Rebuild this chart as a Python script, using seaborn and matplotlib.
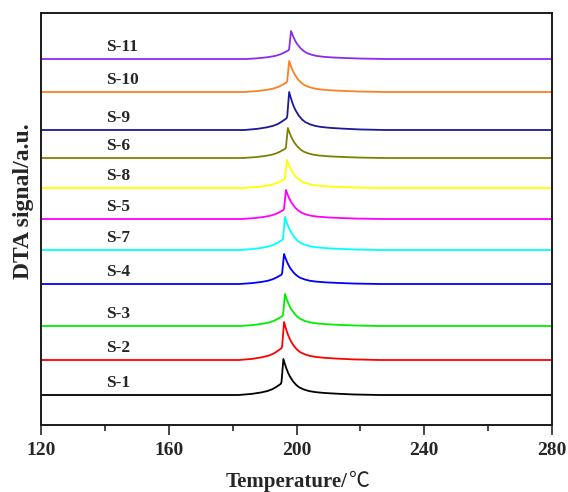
import numpy as np
import pandas as pd
import matplotlib
matplotlib.use("Agg")
import matplotlib.pyplot as plt
from matplotlib.ticker import MultipleLocator
import seaborn as sns

# Samples, stacked bottom to top
samples = ["S-1", "S-2", "S-3", "S-4", "S-7", "S-5", "S-8", "S-6", "S-9", "S-10", "S-11"]
colors = ["#000000", "#ff0000", "#00ee00", "#0000ff", "#00ffff", "#ff00ff",
          "#ffff00", "#808000", "#1a1a9a", "#ff8020", "#8a2cf0"]
# Vertical offset of each trace (a.u.)
offsets = [30, 65, 99, 141, 175, 206, 237, 267, 295, 333, 366]
# Melting peak temperature (°C) and peak height (a.u.)
peak_temp = [195.9, 196.1, 196.4, 196.1, 196.4, 196.7, 197.0, 197.3, 197.7, 197.7, 198.3]
peak_height = [36, 38, 32, 30, 33, 29, 28, 30, 38, 31, 28]

# Endotherm profile around the peak: offset from peak (°C) and fraction of peak height
profile_dt = [-14, -10, -7, -5, -3.5, -2.5, -1.8, -0.8, -0.6, 0.0, 0.5, 1.0, 1.5,
              2.0, 3.0, 4.0, 5.0, 6.5, 8.0, 10.0, 13.0, 17.0, 22.0, 30.0]
profile_frac = [0.0, 0.03, 0.07, 0.11, 0.16, 0.21, 0.25, 0.31, 0.36, 1.0, 0.85, 0.72, 0.61,
                0.52, 0.38, 0.28, 0.21, 0.15, 0.11, 0.08, 0.055, 0.035, 0.015, 0.0]

t_min, t_max = 120, 280

rows = []
for name, base, tp, h in zip(samples, offsets, peak_temp, peak_height):
    temps = [t_min] + [tp + d for d in profile_dt] + [t_max]
    sig = [base] + [base + h * f for f in profile_frac] + [base]
    for i, (t, s) in enumerate(zip(temps, sig)):
        rows.append({"sample": name, "order": i, "T": t, "signal": s})
df = pd.DataFrame(rows)

sns.set_style("white")
plt.rcParams["font.family"] = ["Liberation Serif", "DejaVu Serif"]
plt.rcParams["font.weight"] = "bold"

W, H = 568, 492
fig = plt.figure(figsize=(W / 100, H / 100), dpi=100)
ax = fig.add_axes([41 / W, 1 - 425 / H, 511 / W, 412 / H])

sns.lineplot(data=df, x="T", y="signal", hue="sample", hue_order=samples,
             palette=colors, units="sample", estimator=None, sort=False,
             linewidth=1.3, legend=False, ax=ax)

for name, base in zip(samples, offsets):
    ax.text(140.3, base + 12, name, ha="left", va="center",
            fontsize=12.5, fontweight="bold")

ax.set_xlim(t_min, t_max)
ax.set_ylim(0, 412)
ax.xaxis.set_major_locator(MultipleLocator(40))
ax.xaxis.set_minor_locator(MultipleLocator(20))
ax.set_yticks([])
ax.tick_params(axis="x", which="major", direction="out", length=7, width=1.2,
               labelsize=14, bottom=True, top=False, pad=5)
ax.tick_params(axis="x", which="minor", direction="out", length=4, width=1.2,
               bottom=True, top=False)
for lab in ax.get_xticklabels():
    lab.set_fontweight("bold")

for sp in ax.spines.values():
    sp.set_visible(True)
    sp.set_linewidth(1.4)
    sp.set_color("#1a1a1a")

ax.set_xlabel("")
ax.set_ylabel("DTA signal/a.u.", fontsize=17, fontweight="bold")
ax.yaxis.label.set_ha("center")
ax.yaxis.label.set_va("center")
ax.yaxis.set_label_coords(-0.034, (425 - 201) / 412)

# x-axis title: bold text followed by a light degree-Celsius sign, centred together
renderer = fig.canvas.get_renderer()
t1 = fig.text(0, 0, "Temperature/", fontsize=15, fontweight="bold",
              ha="left", va="baseline")
t2 = fig.text(0, 0, "℃", fontsize=15, fontweight="normal",
              family=["Noto Sans CJK SC", "DejaVu Sans"], ha="left", va="baseline")
w1 = t1.get_window_extent(renderer).width
w2 = t2.get_window_extent(renderer).width
x0 = 297.5 - (w1 + w2) / 2
base_y = 1 - 487 / H
t1.set_position((x0 / W, base_y))
t2.set_position(((x0 + w1 + 1) / W, base_y))

fig.savefig("out.png", dpi=100)
